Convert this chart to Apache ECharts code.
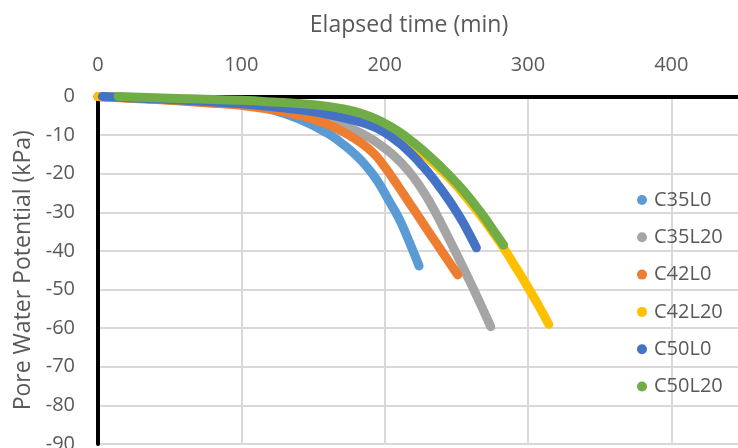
<!DOCTYPE html>
<html>
<head>
<meta charset="utf-8">
<script src="https://cdn.jsdelivr.net/npm/echarts@6/dist/echarts.min.js"></script>
<style>
html,body{margin:0;padding:0;background:#fff;}
#chart{width:738px;height:448px;}
</style>
</head>
<body>
<div id="chart"></div>
<script>
// Elapsed time (min), Pore water potential (kPa)
const seriesNames = ['C35L0', 'C35L20', 'C42L0', 'C42L20', 'C50L0', 'C50L20'];

const C35L0 = [[0,0],[25,-0.4],[50,-0.8],[75,-1.3],[100,-1.9],[120,-3.3],[140,-5.8],[160,-9.5],[170,-12.1],[180,-15.2],[188,-18.4],[195,-21.9],[203,-27.0],[210,-31.6],[217,-37.5],[224,-43.9]];
const C35L20 = [[0,0],[25,-0.4],[50,-0.9],[75,-1.5],[100,-2.1],[130,-3.6],[150,-5.3],[170,-7.5],[185,-9.75],[197,-12.6],[206,-15.2],[216,-19.0],[225,-23.5],[232,-27.7],[240,-33.3],[248,-39.2],[255,-44.5],[262,-49.9],[268,-54.7],[274,-59.6]];
const C42L0 = [[0,0],[25,-0.5],[50,-1.0],[75,-1.6],[100,-2.3],[120,-3.3],[140,-4.8],[160,-7.2],[175,-10.0],[185,-12.4],[192,-14.6],[198,-17.2],[205,-20.8],[213,-25.2],[222,-30.2],[231,-35.2],[241,-40.7],[251,-46.2]];
const C42L20 = [[0,0],[25,-0.4],[50,-0.8],[75,-1.2],[100,-1.7],[125,-2.6],[150,-3.7],[170,-4.9],[185,-6.3],[200,-8.6],[215,-11.75],[230,-15.9],[245,-21.1],[260,-27.5],[275,-34.9],[283,-39.2],[291,-44.0],[299,-48.8],[307,-53.9],[314.5,-59.0]];
const C50L0 = [[3,0],[25,-0.4],[50,-0.8],[75,-1.3],[100,-1.9],[125,-2.8],[150,-3.9],[165,-5.0],[180,-6.3],[188,-7.2],[195,-8.25],[202,-9.8],[210,-12.0],[215,-13.6],[220,-15.4],[226,-17.8],[232,-20.4],[238,-23.3],[244,-26.4],[249,-29.2],[254,-32.2],[259,-35.6],[264,-39.2]];
const C50L20 = [[14,0],[40,-0.35],[70,-0.65],[100,-1.0],[125,-1.5],[150,-2.1],[170,-3.15],[185,-4.55],[197,-6.35],[210,-9.15],[220,-11.9],[232,-15.7],[244,-20.0],[255,-24.4],[267,-30.0],[275,-34.2],[283,-38.5]];

const seriesData = [C35L0, C35L20, C42L0, C42L20, C50L0, C50L20];
const colors = ['#5B9BD5', '#A5A5A5', '#ED7D31', '#FFC000', '#4472C4', '#70AD47'];

const FONT = '"Open Sans", sans-serif';
const TXT = '#595959';

const chart = echarts.init(document.getElementById('chart'), null, {renderer: 'canvas'});
chart.setOption({
  animation: false,
  backgroundColor: '#ffffff',
  grid: {left: 98, top: 96.5, right: -5, bottom: 4, containLabel: false, outerBoundsMode: 'none'},
  legend: {
    orient: 'vertical',
    left: 632,
    top: 185,
    icon: 'circle',
    itemWidth: 10,
    itemHeight: 10,
    itemGap: 17.3,
    textStyle: {fontFamily: FONT, fontSize: 20, color: TXT, padding: [0, 0, 0, 2]},
    data: seriesNames
  },
  xAxis: {
    type: 'value',
    position: 'top',
    min: 0,
    max: 450,
    interval: 100,
    name: 'Elapsed time (min)',
    nameLocation: 'middle',
    nameGap: 60,
    nameTextStyle: {fontFamily: FONT, fontSize: 23, color: TXT, padding: [0, 23, 0, 0]},
    axisLine: {show: true, onZero: false, lineStyle: {color: '#000', width: 4}},
    axisTick: {show: false},
    axisLabel: {fontFamily: FONT, fontSize: 20, color: TXT, margin: 21, showMaxLabel: false},
    splitLine: {show: true, lineStyle: {color: '#D9D9D9', width: 2}}
  },
  yAxis: {
    type: 'value',
    min: -90,
    max: 0,
    interval: 10,
    name: 'Pore Water Potential (kPa)',
    nameLocation: 'middle',
    nameGap: 62,
    nameTextStyle: {fontFamily: FONT, fontSize: 23, color: TXT},
    axisLine: {show: true, onZero: false, lineStyle: {color: '#000', width: 4}},
    axisTick: {show: false},
    axisLabel: {fontFamily: FONT, fontSize: 20, color: TXT, margin: 23},
    splitLine: {show: true, lineStyle: {color: '#D9D9D9', width: 2}}
  },
  series: seriesNames.map((n, i) => ({
    name: n,
    type: 'line',
    data: seriesData[i],
    smooth: 0.5,
    showSymbol: false,
    clip: false,
    color: colors[i],
    lineStyle: {width: 9, color: colors[i], cap: 'round', join: 'round'},
    emphasis: {disabled: true}
  }))
});
</script>
</body>
</html>
